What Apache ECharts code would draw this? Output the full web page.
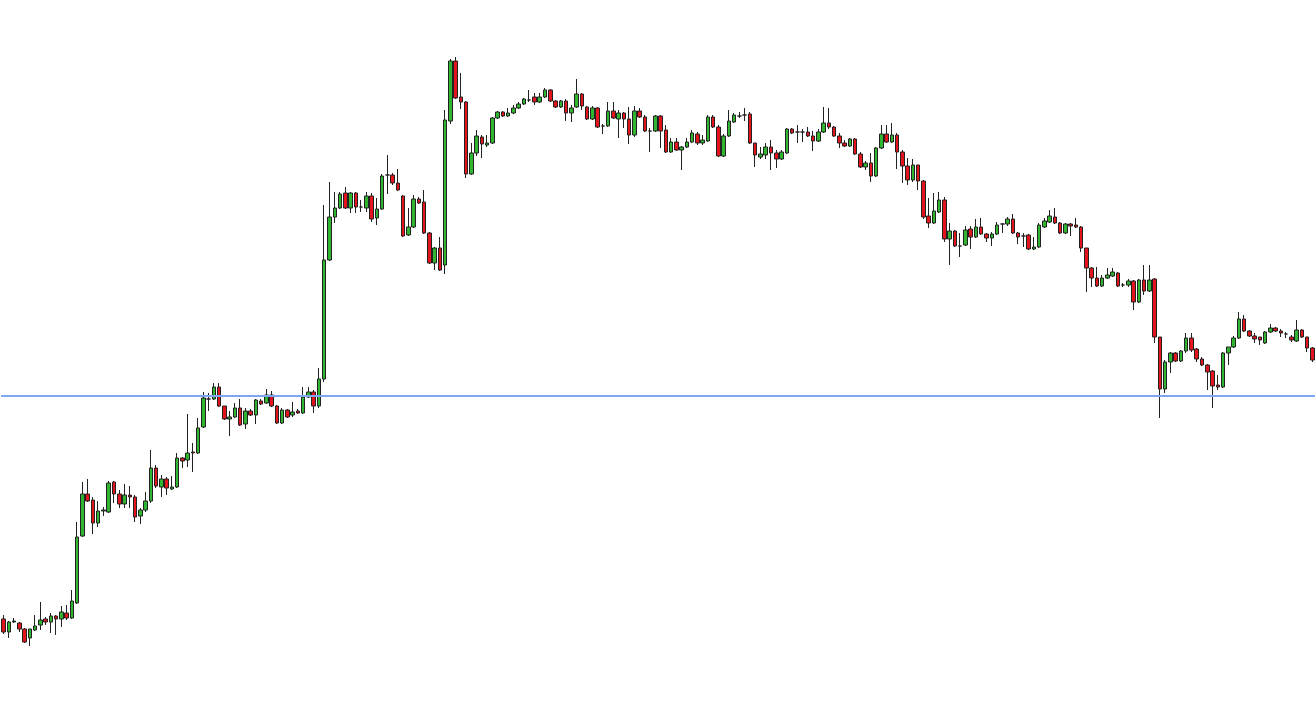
<!DOCTYPE html>
<html>
<head>
<meta charset="utf-8">
<script src="https://cdn.jsdelivr.net/npm/echarts@6/dist/echarts.min.js"></script>
<style>
html,body{margin:0;padding:0;background:#fff;}
#chart{width:1316px;height:702px;}
</style>
</head>
<body>
<div id="chart"></div>
<script>
// Readings are levels measured downward from the chart top (0 = top, 702 = bottom).
const TOP_LEVEL = 702;
const open = [
619,632,622,623,629,638,630,625,619,622,
616,619,613,618,603,536,494,500,523,511,
512,482,494,504,495,497,516,510,501,468,
487,479,489,487,458,460,452,453,427,399,
399,387,406,419,417,408,424,411,415,401,
403,395,406,423,410,415,411,413,397,392,
406,379,260,217,208,193,208,193,207,208,
196,218,209,175,175,183,196,235,227,199,
202,233,263,248,265,121,61,97,102,174,
153,137,145,143,118,112,116,113,108,104,
100,97,102,97,90,101,107,101,113,107,
94,107,119,108,126,126,111,119,113,119,
135,111,117,131,131,116,130,152,142,150,
147,142,134,143,141,117,127,156,136,122,
116,115,114,143,157,155,147,153,159,153,
129,132,132,132,136,141,132,123,127,136,
143,146,139,154,167,163,176,148,134,142,
135,152,166,180,165,181,216,223,212,200,
239,231,246,245,229,237,227,234,238,234,
224,224,219,233,236,235,249,247,227,222,
217,223,233,224,225,227,248,268,278,286,
278,276,273,285,285,281,302,280,291,279,
337,389,362,353,361,351,338,349,359,365,
371,385,387,353,347,338,319,331,336,337,
343,332,328,331,334,337,341,330,337,348
];
const close = [
632,622,621,629,642,629,626,620,622,616,
619,612,618,601,537,494,501,523,511,510,
483,494,504,495,497,517,510,501,468,486,
479,488,487,458,461,453,453,428,398,399,
387,406,419,417,408,425,411,415,400,404,
395,406,423,410,417,412,413,397,392,406,
379,260,217,208,194,208,193,207,207,196,
219,209,176,175,183,190,236,227,199,203,
233,263,248,270,120,61,98,102,174,153,
136,144,143,118,112,116,113,108,104,99,
100,102,97,90,101,107,101,113,108,94,
106,119,108,127,126,111,118,113,119,135,
111,117,131,131,116,131,152,142,150,147,
142,133,143,140,117,127,156,136,121,115,
116,115,143,155,154,147,153,159,152,129,
133,132,132,136,141,132,123,127,136,143,
146,139,154,167,163,176,148,134,142,135,
152,166,180,165,181,217,223,211,200,239,
231,246,246,230,237,227,234,238,234,225,
224,219,233,237,236,249,247,225,221,216,
223,233,224,226,227,248,268,278,286,278,
275,272,286,285,281,302,280,291,280,337,
389,362,353,361,351,338,350,359,365,372,
386,387,353,347,338,319,331,336,339,340,
332,328,331,333,334,340,330,337,348,360
];
const high = [
615,621,618,622,628,629,615,602,617,613,
615,606,605,590,522,482,479,497,501,507,
481,481,490,484,486,495,508,492,450,465,
475,477,476,453,457,414,443,418,392,393,
383,383,406,411,403,399,408,409,399,399,
389,391,405,408,409,402,409,387,387,390,
368,205,182,192,192,187,192,192,200,192,
193,198,174,155,173,169,195,208,195,197,
190,232,247,237,110,59,57,73,101,143,
130,135,135,117,111,111,108,105,102,98,
90,93,93,88,89,100,100,99,105,79,
93,106,106,107,124,102,102,110,112,107,
106,108,115,128,115,115,125,138,138,146,
138,130,132,135,115,115,125,134,110,113,
112,108,112,143,147,143,140,150,150,128,
128,125,129,127,131,129,107,108,126,133,
140,138,138,152,161,153,147,125,125,123,
133,150,158,159,165,180,198,193,192,197,
223,230,233,226,226,219,218,233,232,222,
223,217,214,232,233,234,237,223,218,210,
208,222,223,223,218,226,248,267,267,275,
268,268,272,283,279,280,279,265,265,278,
337,360,352,352,350,333,333,348,357,364,
370,375,352,347,336,312,315,330,333,337,
331,324,327,329,332,335,320,329,337,347
];
const low = [
634,638,623,632,643,646,631,630,625,633,
635,627,620,619,604,537,502,534,527,516,
513,503,508,508,508,522,524,512,503,488,
497,495,490,488,468,467,472,454,428,411,
400,407,420,436,418,426,429,416,424,405,
404,407,424,424,418,417,414,414,398,413,
408,382,261,223,209,209,213,213,212,212,
222,225,210,194,185,191,237,236,228,204,
234,264,270,271,274,124,99,109,178,175,
156,158,147,144,119,117,117,114,109,105,
102,105,103,98,102,108,108,121,122,108,
110,120,120,128,134,127,119,138,128,144,
137,118,132,152,132,148,153,153,151,170,
148,143,145,145,142,128,157,157,137,123,
118,121,144,167,159,159,170,168,160,154,
134,143,142,137,151,142,133,129,137,148,
147,147,155,168,170,182,177,149,143,143,
169,183,185,182,190,219,228,224,213,242,
265,247,257,246,249,238,235,242,246,235,
233,226,234,244,247,250,250,248,228,223,
224,234,234,236,228,252,292,287,287,287,
279,277,287,287,287,310,303,295,292,343,
418,393,373,362,362,353,352,362,366,390,
408,390,388,365,348,339,332,337,343,345,
344,333,332,337,338,342,342,338,352,362
];
const supportLevelReading = 396;

const toLevel = r => TOP_LEVEL - r;
const categories = open.map((_, i) => String(i + 1));
const ohlc = open.map((o, i) => [toLevel(o), toLevel(close[i]), toLevel(low[i]), toLevel(high[i])]);

const chart = echarts.init(document.getElementById('chart'), null, {renderer: 'canvas'});
chart.setOption({
  animation: false,
  backgroundColor: '#ffffff',
  grid: {left: 1, right: 1, top: 0, bottom: 0},
  xAxis: {
    type: 'category', data: categories, boundaryGap: true,
    show: false
  },
  yAxis: {
    type: 'value', min: 0, max: TOP_LEVEL, show: false, splitLine: {show: false}
  },
  series: [{
    type: 'candlestick',
    data: ohlc,
    barWidth: 4,
    itemStyle: {
      color: '#2fb52f',
      color0: '#e3141b',
      borderColor: '#222222',
      borderColor0: '#222222',
      borderWidth: 1
    },
    markLine: {
      silent: true,
      symbol: ['none', 'none'],
      label: {show: false},
      lineStyle: {color: '#7ea6f2', width: 2, type: 'solid'},
      data: [{yAxis: toLevel(supportLevelReading)}]
    }
  }]
});
</script>
</body>
</html>
